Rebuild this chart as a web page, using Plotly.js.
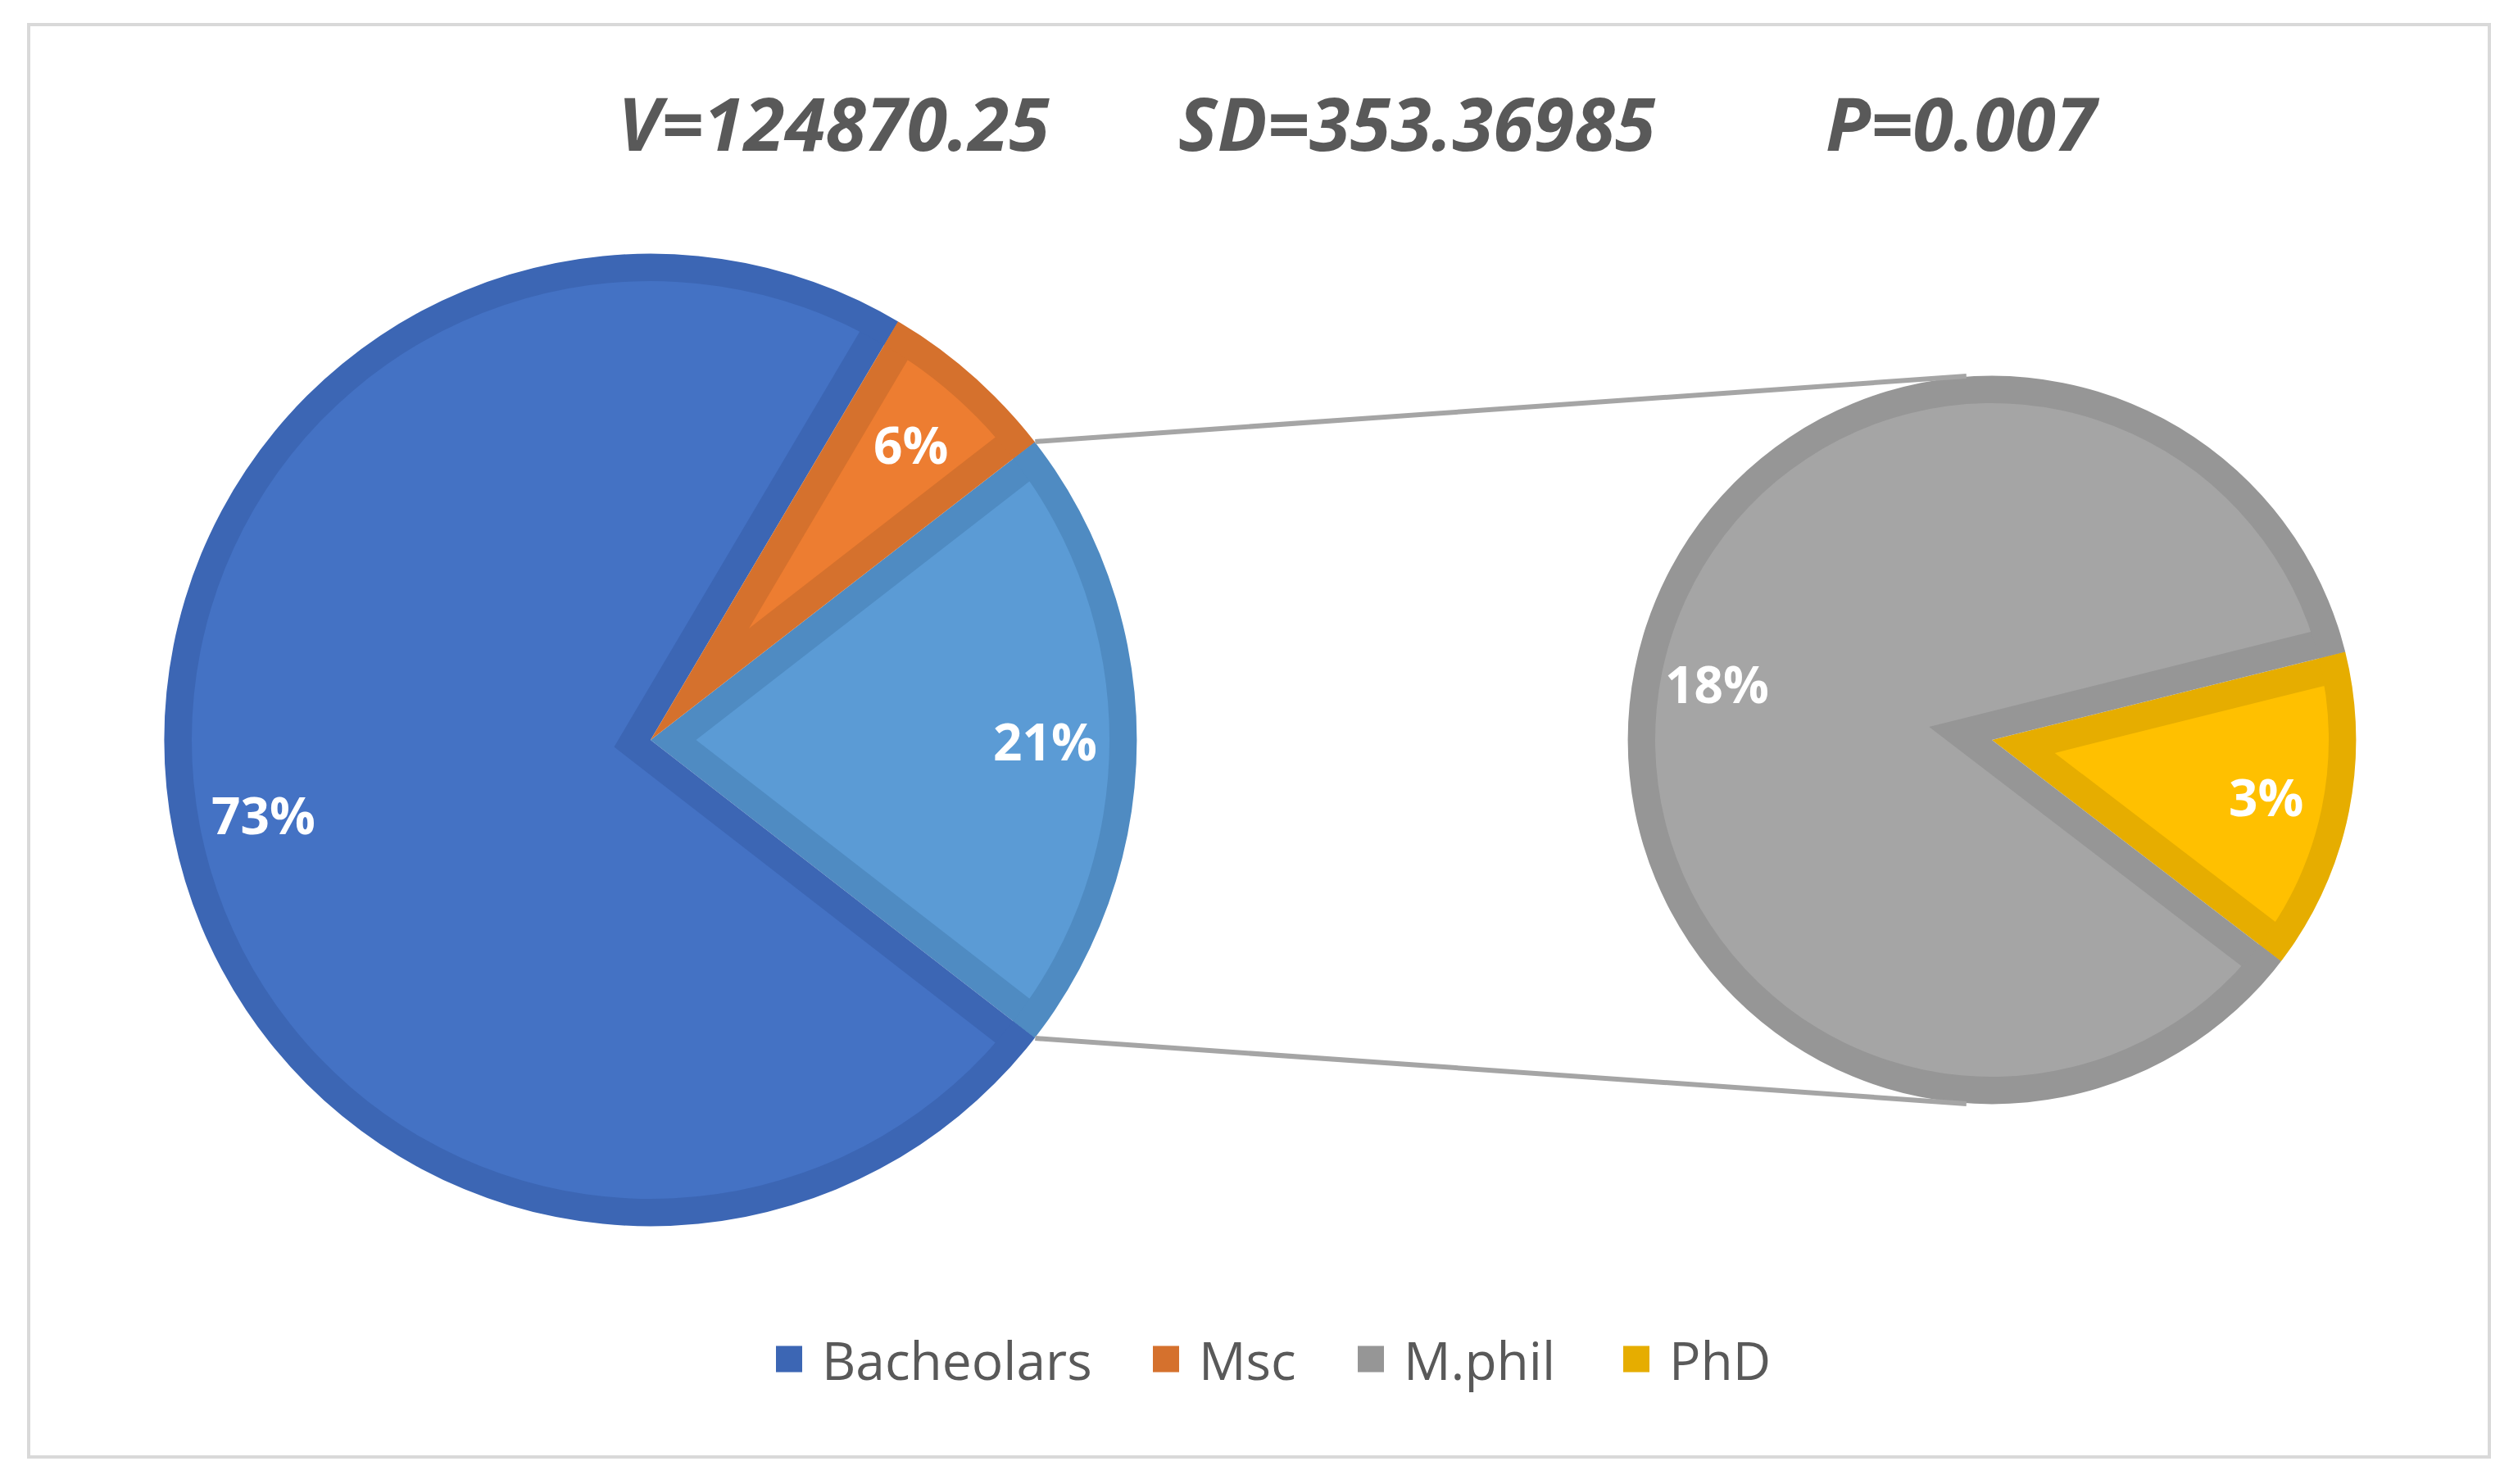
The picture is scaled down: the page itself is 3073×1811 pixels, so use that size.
<!DOCTYPE html>
<html><head><meta charset="utf-8">
<script src="https://cdn.plot.ly/plotly-3.0.1.min.js"></script>
<style>
html{margin:0;padding:0;background:#fff;overflow:hidden;}
body{margin:0;padding:0;background:#fff;width:3073px;height:1811px;}
#chart{width:1537px;height:906px;transform:scale(2);transform-origin:0 0;}
</style>
</head><body><div id="chart"></div>
<script>
// ---------------- data ----------------
const categories = ['Bacheolars', 'Msc', 'M.phil', 'PhD'];
const shares = [73, 6, 18, 3];                    // percent of respondents
const secondaryCategories = ['M.phil', 'PhD'];    // split off into the secondary pie
const otherLabel = 'Other';
const statLabels = ['V=124870.25', 'SD=353.36985', 'P=0.007'];

// ---------------- style ----------------
const S = 2, W = 1537, H = 906, FW = W * S, FH = H * S;
const fillColors = {Bacheolars:'#4472C4', Msc:'#ED7D31', 'M.phil':'#A5A5A5', PhD:'#FFC000', Other:'#5B9BD5'};
const edgeColors = {Bacheolars:'#3C66B4', Msc:'#D5712D', 'M.phil':'#969696', PhD:'#E6AD00', Other:'#4F8BC2'};
const MAIN = {cx:794, cy:903, R:594, t:34, labelR:0.81};
const SEC  = {cx:2431, cy:903, R:445, t:34, labelR:0.77, rotation:76};
const statX = [1018, 1729, 2394], statY = 150;
const legendEntryWidths = [185, 80, 117, null];   // px (layout units) per legend entry text slot
const textGrey = '#595959';

// ---------------- derived series ----------------
const grand = shares.reduce((a, b) => a + b, 0);
const valOf = c => shares[categories.indexOf(c)];
const primary = categories.filter(c => !secondaryCategories.includes(c));
const otherVal = secondaryCategories.reduce((a, c) => a + valOf(c), 0);
const mainLabels = [otherLabel].concat(primary);
const mainValues = [otherVal].concat(primary.map(valOf));
const mainRotation = 90 - 180 * otherVal / grand;
const secLabels = secondaryCategories.slice().reverse();
const secValues = secLabels.map(valOf);

const norm = a => ((a % 360) + 360) % 360;
const rad = Math.PI / 180;

function dom(P, h) {
  return {x: [(P.cx - h) / FW, (P.cx + h) / FW], y: [1 - (P.cy + h) / FH, 1 - (P.cy - h) / FH]};
}
const common = {type:'pie', sort:false, direction:'clockwise', textinfo:'none', hoverinfo:'none', showlegend:false};

function pieLayers(P, labels, values, rotation) {
  const total = values.reduce((a, b) => a + b, 0);
  const tr = [];
  tr.push(Object.assign({}, common, {labels, values, rotation: norm(rotation), domain: dom(P, P.R),
    marker: {colors: labels.map(l => edgeColors[l]), line: {width: 0}}}));
  let cum = 0, maxReach = P.R;
  labels.forEach((lab, i) => {
    const a = Math.PI * values[i] / total;
    const d = P.t / Math.sin(a);
    const r = -d * Math.cos(a) + Math.sqrt((P.R - P.t) ** 2 - P.t ** 2);
    maxReach = Math.max(maxReach, r + d);
    tr.push(Object.assign({}, common, {
      labels: [lab, '_rest' + i], values: [values[i], total - values[i]],
      rotation: norm(rotation + 360 * cum / total), pull: [d / r, 0], domain: dom(P, r + d),
      marker: {colors: [fillColors[lab], 'rgba(0,0,0,0)'], line: {width: 0}}}));
    cum += values[i];
  });
  tr.push(Object.assign({}, common, {labels, values, rotation: norm(rotation), hole: (P.R - P.t) / P.R,
    domain: dom(P, P.R), marker: {colors: labels.map(l => edgeColors[l]), line: {width: 0}}}));
  const h = maxReach + 14;
  tr.push(Object.assign({}, common, {labels: ['_mask'], values: [1], hole: (P.R - 0.6) / h,
    domain: dom(P, h), marker: {colors: ['#ffffff'], line: {width: 0}}}));
  return tr;
}

function labelAnns(P, labels, values, rotation) {
  const total = values.reduce((a, b) => a + b, 0);
  let cum = 0;
  return labels.map((lab, i) => {
    const th = (rotation + 360 * (cum + values[i] / 2) / total) * rad;
    cum += values[i];
    const x = P.cx + P.labelR * P.R * Math.sin(th), y = P.cy - P.labelR * P.R * Math.cos(th);
    return {x: x / FW, y: 1 - y / FH, xref:'paper', yref:'paper', xanchor:'center', yanchor:'middle', showarrow:false,
      text: Math.round(100 * values[i] / grand) + '%',
      font: {family:'Open Sans', size: 31, color:'#ffffff', weight: 700}};
  });
}

function edgePoint(P, angDeg) {
  return [P.cx + P.R * Math.sin(angDeg * rad), P.cy - P.R * Math.cos(angDeg * rad)];
}
function tangent(Pt, C, upper) {
  const vx = Pt[0] - C.cx, vy = Pt[1] - C.cy, D = Math.hypot(vx, vy);
  const b = Math.acos(C.R / D), ux = vx / D, uy = vy / D;
  const c = [b, -b].map(s => [C.cx + C.R * (ux * Math.cos(s) - uy * Math.sin(s)),
                              C.cy + C.R * (ux * Math.sin(s) + uy * Math.cos(s))]);
  c.sort((p, q) => p[1] - q[1]);
  return upper ? c[0] : c[1];
}

// legend keys (empty marker traces, one per category)
const legendTraces = categories.map((c, i) => {
  const tr = {type:'scatter', mode:'markers', x:[null], y:[null], name: c, hoverinfo:'skip', showlegend:true,
    marker: {symbol:'square', size:16, color: edgeColors[c], line:{width:0}}};
  if (legendEntryWidths[i]) tr.legendwidth = legendEntryWidths[i];
  return tr;
});

const data = pieLayers(MAIN, mainLabels, mainValues, mainRotation)
  .concat(pieLayers(SEC, secLabels, secValues, SEC.rotation))
  .concat(legendTraces);

const pTop = edgePoint(MAIN, mainRotation);
const pBot = edgePoint(MAIN, mainRotation + 360 * otherVal / grand);
const tTop = tangent(pTop, SEC, true), tBot = tangent(pBot, SEC, false);
const line = (a, b) => ({type:'line', xref:'paper', yref:'paper', x0: a[0] / FW, y0: 1 - a[1] / FH,
  x1: b[0] / FW, y1: 1 - b[1] / FH, line: {color:'#A5A5A5', width: 3}});

const shapes = [
  {type:'rect', xref:'paper', yref:'paper', x0: 35 / FW, x1: 3038 / FW, y0: 1 - 1778 / FH, y1: 1 - 30 / FH,
   line: {color:'#D9D9D9', width: 2}, fillcolor:'rgba(0,0,0,0)', layer:'below'},
  line(pTop, tTop), line(pBot, tBot)
];

const annotations = statLabels.map((s, i) => ({x: statX[i] / FW, y: 1 - statY / FH, xref:'paper', yref:'paper',
  xanchor:'center', yanchor:'middle',
  showarrow:false, text: s, font: {family:'Open Sans', size: 45, color: textGrey, weight: 700, style:'italic'}}))
  .concat(labelAnns(MAIN, mainLabels, mainValues, mainRotation))
  .concat(labelAnns(SEC, secLabels, secValues, SEC.rotation));

const layout = {
  width: W, height: H, autosize:false,
  margin: {l:0, r:0, t:0, b:0, pad:0},
  paper_bgcolor:'#ffffff', plot_bgcolor:'rgba(0,0,0,0)',
  xaxis: {visible:false, range:[0, 1]}, yaxis: {visible:false, range:[0, 1]},
  showlegend: true,
  legend: {orientation:'h', x: (947 - 24) / FW, xanchor:'left', y: 1 - 1659 / FH, yanchor:'middle',
    traceorder:'normal',
    font: {family:'Open Sans', size: 32, color: textGrey}, bgcolor:'rgba(0,0,0,0)', itemclick:false, itemdoubleclick:false},
  shapes, annotations
};

Plotly.newPlot('chart', data, layout, {displayModeBar:false, staticPlot:true});
</script>
</body></html>
